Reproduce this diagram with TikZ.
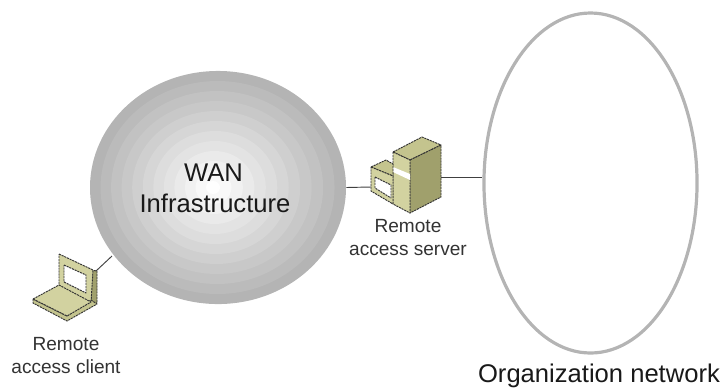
\documentclass[tikz,border=0pt]{standalone}
\usepackage{fontspec}
\setmainfont{Liberation Sans}
\usetikzlibrary{shapes.geometric}
\definecolor{ringgray}{HTML}{B4B4B4}
\definecolor{olivelight}{HTML}{D2D2A0}
\definecolor{olivemid}{HTML}{C4C48E}
\definecolor{olivedark}{HTML}{A0A06C}
\definecolor{lineink}{HTML}{404040}
\tikzset{
    link/.style={draw=lineink, line width=.7pt},
    facet/.style={draw=black!80, line width=.7pt, dash pattern=on 1.6pt off .6pt, line join=round},
    bigtext/.style={font=\fontsize{19.2}{23.2}\selectfont, align=center, text=black!90},
    smalltext/.style={font=\fontsize{14.3}{17.2}\selectfont, align=center, text=black!80},
}
\begin{document}
\begin{tikzpicture}[x=.75pt, y=-.75pt]
            \useasboundingbox (0,0) rectangle (723,387);
            % both clouds
            \node[ellipse, fill=ringgray, minimum width=96pt*2, minimum height=87.4pt*2, inner sep=0pt] (wan) at (218,187.5) {};
            \foreach \k in {1,...,11} {
                \pgfmathsetmacro{\shade}{\k*9}
                \fill[white!\shade!ringgray] ({218-\k*.45},187.5) ellipse [x radius={(128-\k*11)*.75pt}, y radius={(116.5-\k*10)*.75pt}];
            }
            \node[ellipse, draw=ringgray, line width=2.4pt, minimum width=159.8pt, minimum height=255pt, inner sep=0pt] (org) at (590.5,183) {};
            \node[bigtext, anchor=base] (wantext) at (213.5,181) {WAN};
            \node[bigtext, anchor=base] (infratext) at (215,212) {Infrastructure};
            % laptop
            \coordinate (clientport) at (96,271);
            \coordinate (cloudedge) at (112,256);
            \draw[facet, fill=olivedark] (91,270) -- (97,271) -- (97,303) -- (91,306) -- cycle;
            \draw[facet, fill=olivelight] (59,254) -- (93,270) -- (91,303) -- (59,286) -- cycle;
            \draw[facet, fill=white] (64,265) -- (86,275) -- (86,293) -- (64,282) -- cycle;
            \draw[facet, fill=olivemid] (33,299) -- (33,303) -- (67,321) -- (97,304) -- (91,300) -- (67,316) -- cycle;
            \draw[facet, fill=olivelight] (33,299) -- (59,285) -- (91,302) -- (67,316) -- cycle;
            % server
            \coordinate (serverleft) at (371,187);
            \coordinate (serverright) at (441,177);
            \draw[facet, fill=olivemid] (393,152) -- (422,137) -- (441,145) -- (410,160) -- cycle;
            \draw[facet, fill=olivedark] (410,160) -- (441,145) -- (441,197) -- (410,213) -- cycle;
            \draw[facet, fill=olivelight] (393,152) -- (410,160) -- (410,213) -- (393,204) -- cycle;
            \fill[white] (393,167) -- (410,174) -- (410,180) -- (393,172) -- cycle;
            \draw[facet, fill=olivemid] (371,167) -- (386,160) -- (393,164) -- (393,176) -- cycle;
            \draw[facet, fill=olivelight] (371,167) -- (393,176) -- (393,204) -- (371,191) -- cycle;
            \draw[facet, fill=white] (375,177) -- (391,185) -- (391,198) -- (375,188) -- cycle;
            % connectors
            \draw[link] (wan.east) -- (serverleft);
            \draw[link] (serverright) -- (org.west |- serverright);
            \draw[link] (clientport) -- (cloudedge);
            % labels
            \node[smalltext, anchor=base] (clientlabel) at (66,373) {Remote\\access client};
            \node[smalltext, anchor=base] (serverlabel) at (408,255) {Remote\\access server};
            \node[bigtext, anchor=base] (orglabel) at (599,382) {Organization network};
        \end{tikzpicture}
\end{document}
